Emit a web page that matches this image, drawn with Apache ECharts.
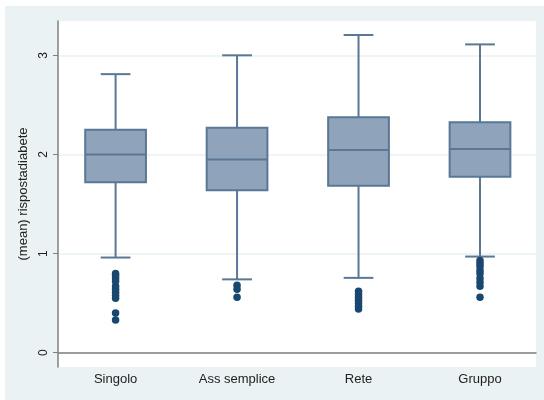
<!DOCTYPE html>
<html>
<head>
<meta charset="utf-8">
<script src="https://cdn.jsdelivr.net/npm/echarts@6/dist/echarts.min.js"></script>
<style>
  html, body { margin: 0; padding: 0; background: #ffffff; }
  #chart { width: 544px; height: 400px; }
</style>
</head>
<body>
<div id="chart"></div>
<script>
// Groups shown along the horizontal axis
const categories = ['Singolo', 'Ass semplice', 'Rete', 'Gruppo'];

// Box summaries per group: [lower whisker, Q1, median, Q3, upper whisker]
const boxStats = [
  [0.96, 1.72, 2.00, 2.25, 2.81],
  [0.74, 1.64, 1.95, 2.27, 3.00],
  [0.755, 1.685, 2.045, 2.375, 3.205],
  [0.97, 1.775, 2.055, 2.325, 3.11]
];

// Outside values per group
const outliers = [
  [0.80, 0.78, 0.75, 0.72, 0.67, 0.64, 0.61, 0.58, 0.55, 0.40, 0.33],
  [0.68, 0.64, 0.56],
  [0.62, 0.59, 0.56, 0.53, 0.50, 0.47, 0.44],
  [0.93, 0.90, 0.87, 0.83, 0.80, 0.75, 0.71, 0.67, 0.56]
];

// Tick values on the vertical axis
const yTicks = [0, 1, 2, 3];
const yTitle = '(mean) rispostadiabete';

const boxColor = '#8fa4ba';
const lineColor = '#5a7796';
const dotColor = '#1a476f';
const bgColor = '#eaf2f3';

const boxData = boxStats.map((s, i) => [i + 1].concat(s));
const dotData = [];
outliers.forEach((arr, i) => arr.forEach(v => dotData.push([i + 1, v])));

const chart = echarts.init(document.getElementById('chart'), null, { renderer: 'canvas' });

chart.setOption({
  backgroundColor: '#ffffff',
  animation: false,
  graphic: [{
    type: 'rect', z: -10, silent: true,
    shape: { x: 5, y: 6, width: 539, height: 394 },
    style: { fill: bgColor }
  }],
  grid: {
    left: 58, right: 8, top: 21, bottom: 33,
    show: true, backgroundColor: '#ffffff', borderWidth: 0
  },
  xAxis: {
    type: 'value',
    min: 0.526, max: 4.461,
    axisLine: { show: true, lineStyle: { color: '#808080', width: 1.5 } },
    axisTick: { show: false },
    splitLine: { show: false },
    axisLabel: {
      customValues: [1, 2, 3, 4],
      formatter: v => categories[Math.round(v) - 1] || '',
      color: '#222', fontSize: 13, fontFamily: 'Liberation Sans, Arial, sans-serif',
      margin: 6
    }
  },
  yAxis: {
    type: 'value',
    min: -0.144, max: 3.346,
    name: yTitle,
    nameLocation: 'middle',
    nameGap: 28,
    nameTextStyle: { color: '#222', fontSize: 13, fontFamily: 'Liberation Sans, Arial, sans-serif' },
    axisLine: { show: true, lineStyle: { color: '#808080', width: 1.5 } },
    axisTick: { show: true, customValues: yTicks, length: 5, lineStyle: { color: '#808080', width: 1 } },
    axisLabel: {
      customValues: yTicks,
      rotate: 90,
      color: '#222', fontSize: 12, fontFamily: 'Liberation Sans, Arial, sans-serif',
      margin: 8
    },
    splitLine: { show: true, lineStyle: { color: bgColor, width: 1.5 } }
  },
  series: [
    {
      type: 'custom',
      data: boxData,
      z: 3,
      renderItem: function (params, api) {
        const x = api.value(0);
        const lo = api.coord([x, api.value(1)]);
        const q1 = api.coord([x, api.value(2)]);
        const med = api.coord([x, api.value(3)]);
        const q3 = api.coord([x, api.value(4)]);
        const hi = api.coord([x, api.value(5)]);
        const bw = api.size([0.5, 0])[0];
        const cw = api.size([0.245, 0])[0];
        const cx = lo[0];
        const ls = { stroke: lineColor, lineWidth: 2 };
        return {
          type: 'group',
          children: [
            { type: 'line', shape: { x1: cx, y1: q3[1], x2: cx, y2: hi[1] }, style: ls },
            { type: 'line', shape: { x1: cx, y1: q1[1], x2: cx, y2: lo[1] }, style: ls },
            { type: 'line', shape: { x1: cx - cw / 2, y1: hi[1], x2: cx + cw / 2, y2: hi[1] }, style: ls },
            { type: 'line', shape: { x1: cx - cw / 2, y1: lo[1], x2: cx + cw / 2, y2: lo[1] }, style: ls },
            { type: 'rect', shape: { x: cx - bw / 2, y: q3[1], width: bw, height: q1[1] - q3[1] },
              style: { fill: boxColor, stroke: lineColor, lineWidth: 2 } },
            { type: 'line', shape: { x1: cx - bw / 2, y1: med[1], x2: cx + bw / 2, y2: med[1] }, style: ls }
          ]
        };
      }
    },
    {
      type: 'scatter',
      data: dotData,
      symbol: 'circle',
      symbolSize: 7.5,
      itemStyle: { color: dotColor, opacity: 1 },
      z: 4
    }
  ]
});
</script>
</body>
</html>
